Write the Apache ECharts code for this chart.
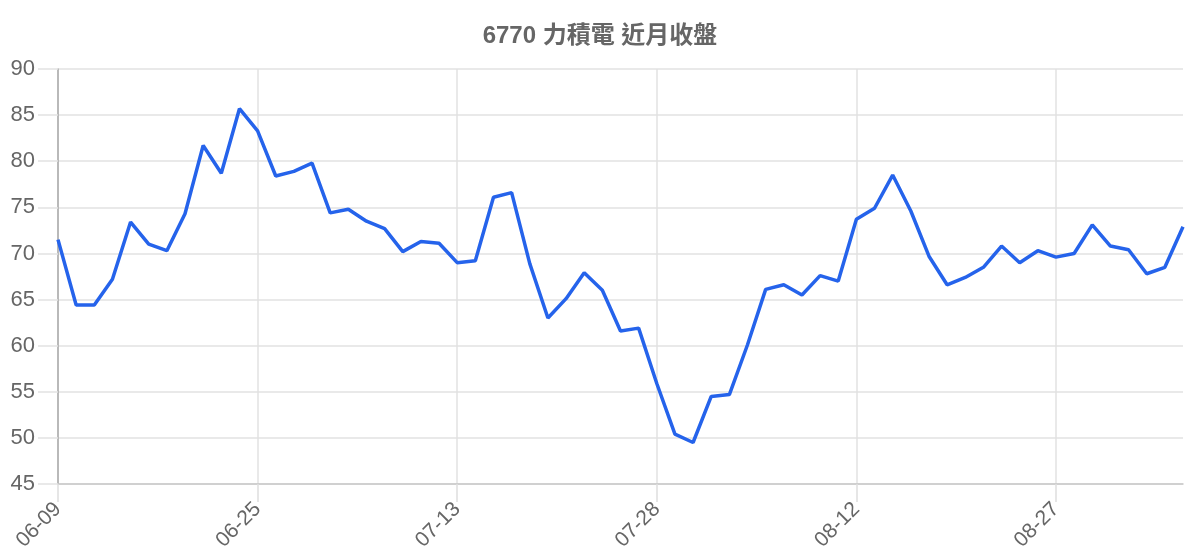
<!DOCTYPE html>
<html>
<head>
<meta charset="utf-8">
<title>6770 力積電 近月收盤</title>
<script src="https://cdn.jsdelivr.net/npm/echarts@6/dist/echarts.min.js"></script>
<style>
  html, body { margin: 0; padding: 0; background: #fff; }
  #main { width: 1200px; height: 560px; }
</style>
</head>
<body>
<div id="main"></div>
<script>
// 交易日
var dates = [
  "06-09", "06-10", "06-11", "06-12", "06-13", "06-16", "06-17", "06-18", "06-19", "06-20",
  "06-23", "06-25", "06-26", "06-27", "06-30", "07-01", "07-02", "07-03", "07-04", "07-07",
  "07-08", "07-09", "07-13", "07-14", "07-15", "07-16", "07-17", "07-18", "07-21", "07-22",
  "07-23", "07-24", "07-25", "07-28", "07-29", "07-30", "07-31", "08-01", "08-04", "08-05",
  "08-06", "08-07", "08-08", "08-11", "08-12", "08-13", "08-14", "08-15", "08-18", "08-19",
  "08-20", "08-21", "08-22", "08-25", "08-26", "08-27", "08-28", "08-29", "09-01", "09-02",
  "09-03", "09-04", "09-05"
];
// 收盤價
var closes = [
  71.5, 64.4, 64.4, 67.2, 73.4, 71.0, 70.3, 74.3, 81.7, 78.7,
  85.7, 83.3, 78.4, 78.9, 79.8, 74.4, 74.8, 73.5, 72.7, 70.2,
  71.3, 71.1, 69.0, 69.2, 76.1, 76.6, 68.9, 63.0, 65.1, 67.9,
  66.0, 61.6, 61.9, 55.9, 50.4, 49.5, 54.5, 54.7, 60.1, 66.1,
  66.6, 65.5, 67.6, 67.0, 73.7, 74.9, 78.5, 74.6, 69.7, 66.6,
  67.4, 68.5, 70.8, 69.0, 70.3, 69.6, 70.0, 73.1, 70.8, 70.4,
  67.8, 68.5, 72.9
];
var yTicks = { min: 45, max: 90, step: 5 };
var labelEvery = 10;

var fontFam = "'Liberation Sans', 'Noto Sans CJK TC', sans-serif";
var myChart = echarts.init(document.getElementById("main"));

var option = {
  animation: false,
  textStyle: { fontFamily: fontFam },
  title: {
    text: "6770 力積電 近月收盤",
    left: "center",
    top: 19,
    textStyle: { fontSize: 24, fontWeight: "bold", color: "#666", fontFamily: fontFam }
  },
  grid: { left: 58, right: 17, top: 69, bottom: 76 },
  xAxis: {
    type: "category",
    data: dates,
    boundaryGap: false,
    axisLine: { lineStyle: { color: "#c8c8c8", width: 1.5 } },
    axisTick: {
      interval: labelEvery,
      length: 18,
      lineStyle: { color: "#dedede", width: 1.5 }
    },
    axisLabel: {
      interval: labelEvery,
      rotate: 45,
      fontSize: 21,
      color: "#666",
      margin: 22
    },
    splitLine: {
      show: true,
      interval: labelEvery,
      lineStyle: { color: "#e2e2e2", width: 1.5 }
    }
  },
  yAxis: {
    type: "value",
    min: yTicks.min,
    max: yTicks.max,
    interval: yTicks.step,
    axisLine: { show: true, lineStyle: { color: "#aaa", width: 1.5 } },
    axisTick: { show: true, length: 20, lineStyle: { color: "#e2e2e2", width: 1.5 } },
    axisLabel: { fontSize: 22, color: "#666", margin: 23 },
    splitLine: { lineStyle: { color: "#e2e2e2", width: 1.5 } }
  },
  series: [
    {
      name: "收盤",
      type: "line",
      data: closes,
      showSymbol: false,
      lineStyle: { color: "#2563eb", width: 3.5 },
      itemStyle: { color: "#2563eb" }
    }
  ]
};
myChart.setOption(option);
</script>
</body>
</html>
